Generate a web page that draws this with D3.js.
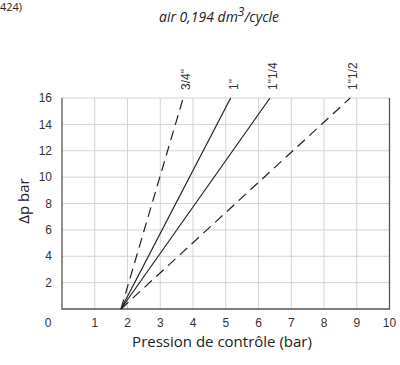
<!DOCTYPE html>
<html>
<head>
<meta charset="utf-8">
<script src="https://cdn.jsdelivr.net/npm/d3@7"></script>
<style>
  body { margin: 0; background: #fff; }
  svg { display: block; }
  .tick-label { font-family: "Liberation Sans", Arial, sans-serif; font-size: 12px; fill: #333; }
  .axis-title { font-family: "Open Sans", sans-serif; font-size: 15px; fill: #222; }
</style>
</head>
<body>
<svg id="chart" width="400" height="365"></svg>
<script>
// curves: Δp vs control pressure, all starting at the same point
const sizes = ['3/4"', '1"', '1"1/4', '1"1/2'];
const startPressure = [1.8, 1.8, 1.8, 1.8];
const startDp = [0, 0, 0, 0];
const endPressure = [3.7, 5.15, 6.35, 8.8];
const endDp = [16, 16, 16, 16];
const dashed = [true, false, false, true];

const xTicks = [0, 1, 2, 3, 4, 5, 6, 7, 8, 9, 10];
const yTicks = [2, 4, 6, 8, 10, 12, 14, 16];

const dims = { left: 62, right: 389.5, top: 98, bottom: 309 };

const svg = d3.select("#chart");
const x = d3.scaleLinear().domain([0, 10]).range([dims.left, dims.right]);
const y = d3.scaleLinear().domain([0, 16]).range([dims.bottom, dims.top]);

// page marker at the top-left edge
svg.append("text")
  .attr("x", 0).attr("y", 11)
  .attr("font-family", "Open Sans, sans-serif")
  .attr("font-size", 11)
  .attr("fill", "#222")
  .text("424)");

// title
const title = svg.append("text")
  .attr("x", 219).attr("y", 22)
  .attr("text-anchor", "middle")
  .attr("font-family", "Open Sans, sans-serif")
  .attr("font-style", "italic")
  .attr("font-size", 14)
  .attr("fill", "#222");
title.append("tspan").text("air 0,194 dm");
title.append("tspan").attr("dy", -6).attr("font-size", 12).text("3");
title.append("tspan").attr("dy", 6).text("/cycle");

// grid
const grid = svg.append("g").attr("stroke", "#d4d4d4").attr("stroke-width", 1);
grid.selectAll(".vg")
  .data(xTicks.filter((d) => d > 0 && d < 10))
  .join("line")
  .attr("x1", (d) => x(d)).attr("x2", (d) => x(d))
  .attr("y1", y(16)).attr("y2", y(0));
grid.selectAll(".hg")
  .data(yTicks)
  .join("line")
  .attr("x1", x(0)).attr("x2", x(10))
  .attr("y1", (d) => y(d)).attr("y2", (d) => y(d));

// frame: left, bottom, right darker
const frame = svg.append("g").attr("stroke", "#555").attr("stroke-width", 1.3).attr("fill", "none");
frame.append("path").attr("d", `M${x(0)},${y(16)}V${y(0)}H${x(10)}V${y(16)}`);

// tick labels
svg.append("g").selectAll("text")
  .data(xTicks)
  .join("text")
  .attr("class", "tick-label")
  .attr("x", (d) => (d === 0 ? 48 : x(d)))
  .attr("y", 327)
  .attr("text-anchor", "middle")
  .text((d) => d);
svg.append("g").selectAll("text")
  .data(yTicks)
  .join("text")
  .attr("class", "tick-label")
  .attr("x", 52)
  .attr("y", (d) => y(d))
  .attr("dy", "0.35em")
  .attr("text-anchor", "end")
  .text((d) => d);

// axis titles
svg.append("text")
  .attr("class", "axis-title")
  .attr("transform", "translate(29,201) rotate(-90)")
  .attr("text-anchor", "middle")
  .text("Δp bar");
svg.append("text")
  .attr("class", "axis-title")
  .attr("x", 222).attr("y", 347)
  .attr("text-anchor", "middle")
  .text("Pression de contrôle (bar)");

// curves
const curves = sizes.map((s, i) => ({
  label: s,
  dashed: dashed[i],
  pts: [[startPressure[i], startDp[i]], [endPressure[i], endDp[i]]],
}));
const line = d3.line().x((d) => x(d[0])).y((d) => y(d[1]));
svg.append("g").selectAll("path")
  .data(curves)
  .join("path")
  .attr("fill", "none")
  .attr("stroke", "#222")
  .attr("stroke-width", 1.2)
  .attr("stroke-dasharray", (d) => (d.dashed ? "10,6" : null))
  .attr("d", (d) => line(d.pts));

// curve labels, rotated above each line end
svg.append("g").selectAll("text")
  .data(curves)
  .join("text")
  .attr("class", "tick-label")
  .attr("font-size", 11)
  .attr("transform", (d) => `translate(${x(d.pts[1][0]) + 7},${y(16) - 8}) rotate(-90)`)
  .attr("text-anchor", "start")
  .text((d) => d.label);
</script>
</body>
</html>
